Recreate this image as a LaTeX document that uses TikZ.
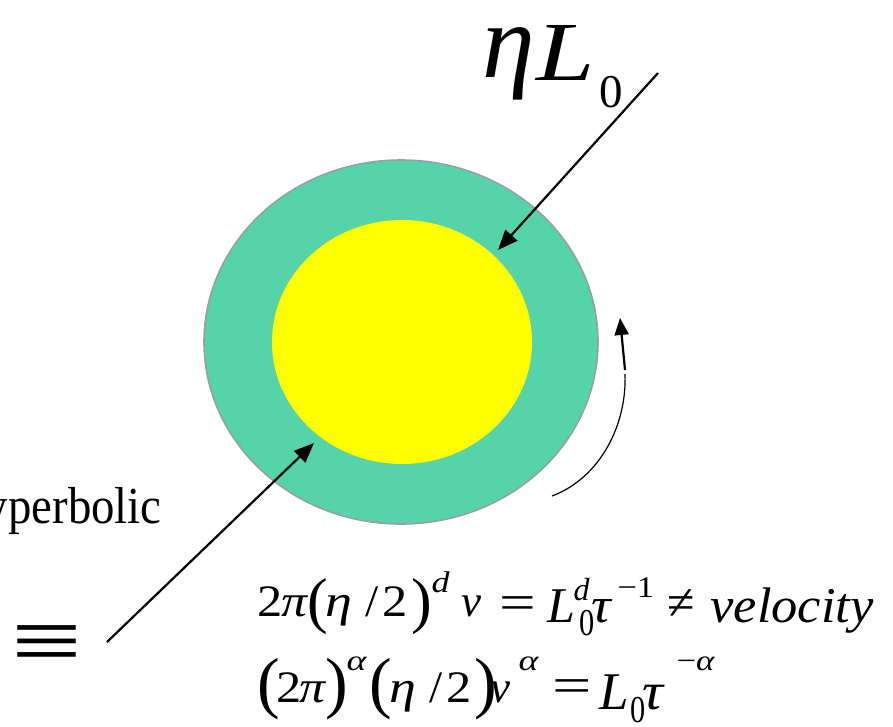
\documentclass[tikz,border=0pt]{standalone}
\usepackage{fontspec}
\usepackage{graphicx}
\setmainfont{Liberation Serif}
\usetikzlibrary{arrows.meta,shapes.geometric}
\definecolor{ringgreen}{RGB}{85,212,170}
\definecolor{ringedge}{RGB}{150,160,165}
\definecolor{coreyellow}{RGB}{255,255,0}
% place glyph #4 at absolute x=#1 (pt), raised by #2 (pt), horizontal stretch #3
\newcommand\putg[4]{\makebox[0pt][l]{\kern#1pt\raisebox{#2pt}{\scalebox{#3}[1]{#4}}}}
\newcommand\fs[1]{\fontsize{#1}{#1}\selectfont}
\begin{document}
\begin{tikzpicture}[x=1pt,y=1pt,
  txt/.style={inner sep=0pt, outer sep=0pt, anchor=base west},
  bigarrow/.style={line width=2.2pt, -{Triangle[length=20pt,width=16pt]}},
  smallarrow/.style={line width=2.2pt, -{Triangle[length=17pt,width=14pt]}},
  thinline/.style={line width=1.2pt}]
\useasboundingbox (0,0) rectangle (893,-726);
% rings
\node[draw=ringedge, line width=1.6pt, fill=ringgreen, ellipse, minimum width=394pt, minimum height=364pt, inner sep=0pt] (outer) at (401,-342) {};
\node[fill=coreyellow, ellipse, minimum width=260pt, minimum height=244pt, inner sep=0pt] (inner) at (402,-342) {};
% arrows
\coordinate (a1s) at (658,-73);
\coordinate (a1e) at (498,-250);
\coordinate (a2s) at (107,-642);
\coordinate (a2e) at (314,-443);
\draw[bigarrow] (a1s) -- (a1e);
\draw[bigarrow] (a2s) -- (a2e);
% rotation arrow
\coordinate (c1) at (552,-496);
\coordinate (c2) at (625,-374);
\coordinate (c3) at (625,-370);
\coordinate (c4) at (620,-318);
\draw[thinline] (c1) .. controls (600,-478) and (627,-425) .. (c2);
\draw[smallarrow] (c3) -- (c4);
% labels
\node[txt] (etaL) at (0,-80) {%
  \putg{482}{3}{1.0}{\fs{106}\textit{η}}%
  \putg{536}{0}{1.25}{\fs{84}\textit{L}}%
  \putg{599}{-27}{1}{\fs{47}0}};
\node[txt] (hyp) at (-15,-523) {\scalebox{0.9}[1]{\fs{52}yperbolic}};
\node[txt] (equiv) at (12,-672) {\scalebox{1.57}[1.17]{\fs{80}≡}};
\node[txt] (eq1) at (0,-616) {%
  \putg{257}{0}{1.12}{\fs{45}2}%
  \putg{281}{0}{1.15}{\fs{45}\textit{π}}%
  \putg{307}{-5}{1}{\fs{62}(}%
  \putg{325}{0}{1.2}{\fs{45}\textit{η}}%
  \putg{365}{0}{1.05}{\fs{45}/}%
  \putg{382}{0}{1.12}{\fs{45}2}%
  \putg{411}{-5}{1}{\fs{62})}%
  \putg{431}{24}{1.2}{\fs{30}\textit{d}}%
  \putg{461}{0}{1.0}{\fs{45}\textit{ν}}%
  \putg{499}{-3}{1.3}{\fs{50}=}%
  \putg{547}{-6}{1}{\fs{50}\textit{L}}%
  \putg{573}{16}{1}{\fs{32}\textit{d}}%
  \putg{579}{-19}{0.8}{\fs{38}0}%
  \putg{591}{-6}{1.1}{\fs{50}\textit{τ}}%
  \putg{617}{19}{1.15}{\fs{30}−1}%
  \putg{667}{-3}{1}{\fs{50}≠}%
  \putg{710}{-6}{1.05}{\fs{50}\textit{velocity}}};
\node[txt] (eq2) at (0,-702) {%
  \putg{257}{-3}{1}{\fs{68}(}%
  \putg{276}{0}{1.12}{\fs{45}2}%
  \putg{299}{0}{1.15}{\fs{45}\textit{π}}%
  \putg{325}{-3}{1}{\fs{68})}%
  \putg{346}{32}{1.3}{\fs{29}\textit{α}}%
  \putg{369}{-3}{1}{\fs{68}(}%
  \putg{389}{0}{1.2}{\fs{45}\textit{η}}%
  \putg{429}{0}{1.05}{\fs{45}/}%
  \putg{446}{0}{1.12}{\fs{45}2}%
  \putg{474}{-3}{1}{\fs{68})}%
  \putg{490}{0}{1.0}{\fs{45}\textit{ν}}%
  \putg{518}{32}{1.3}{\fs{29}\textit{α}}%
  \putg{552}{0}{1.4}{\fs{50}=}%
  \putg{599}{-7}{1}{\fs{53}\textit{L}}%
  \putg{630}{-20}{0.8}{\fs{38}0}%
  \putg{642}{-7}{1.1}{\fs{53}\textit{τ}}%
  \putg{676}{32}{1.2}{\fs{29}−\textit{α}}};
\end{tikzpicture}
\end{document}
